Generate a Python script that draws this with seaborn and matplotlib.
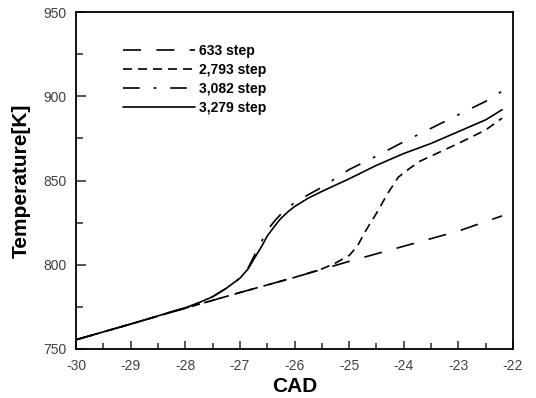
import matplotlib
matplotlib.use("Agg")
import matplotlib.pyplot as plt
import seaborn as sns
import pandas as pd
from matplotlib.ticker import MultipleLocator

# ---- data ----
labels = ["633 step", "2,793 step", "3,082 step", "3,279 step"]

x_633 = [-30, -29, -28, -27, -26, -25, -24, -23, -22.2]
t_633 = [755.5, 764.8, 774.2, 783.5, 792.5, 802, 811, 820, 829]

x_2793 = [-30, -29, -28, -27, -26, -25.5, -25.25, -25.0, -24.85, -24.7, -24.5,
          -24.3, -24.1, -23.9, -23.7, -23.5, -23.0, -22.5, -22.2]
t_2793 = [755.5, 764.8, 774.2, 783.5, 792.5, 797.5, 801, 805.5, 811, 820, 830.5,
          842, 852, 857, 861.5, 864.5, 872, 880, 887]

x_3082 = [-30, -29, -28, -27.75, -27.5, -27.25, -27.0, -26.85, -26.75, -26.6, -26.5,
          -26.35, -26.25, -26.1, -26.0, -25.5, -25.0, -24.5, -24.0, -23.5, -23.0,
          -22.5, -22.2]
t_3082 = [755.5, 764.8, 774.5, 777.5, 781, 786, 792, 798, 804.5, 814, 820.5,
          826.5, 830, 834, 837, 846, 856.5, 864.5, 873, 881, 889, 897, 903]

x_3279 = [-30, -29, -28, -27.75, -27.5, -27.25, -27.0, -26.85, -26.75, -26.6, -26.5,
          -26.35, -26.25, -26.1, -26.0, -25.75, -25.5, -25.0, -24.5, -24.0, -23.5,
          -23.0, -22.5, -22.2]
t_3279 = [755.5, 764.8, 774.5, 777.5, 781, 786, 792, 797.5, 803, 811, 817,
          823.5, 827.5, 832, 834.5, 839.5, 843.5, 851, 859, 866, 872, 879, 886, 892]

xs = [x_633, x_2793, x_3082, x_3279]
ts = [t_633, t_2793, t_3082, t_3279]

x_ticks = [-30, -29, -28, -27, -26, -25, -24, -23, -22]
y_ticks = [750, 800, 850, 900, 950]

# ---- style ----
sns.set_style("white")
plt.rcParams["font.family"] = ["Liberation Sans", "DejaVu Sans"]
plt.rcParams["lines.scale_dashes"] = False
plt.rcParams["text.color"] = "black"
plt.rcParams["axes.labelcolor"] = "black"

styles = [(0, (13, 11)), (0, (6.5, 4.3)), (0, (12, 10, 2, 10)), "-"]

fig = plt.figure(figsize=(5.36, 3.98), dpi=100)
ax = fig.add_axes([76 / 536, 1 - 349 / 398, (513 - 76) / 536, (349 - 12) / 398])

for lab, x, t, ls in zip(labels, xs, ts, styles):
    df = pd.DataFrame({"CAD": x, "T": t})
    sns.lineplot(data=df, x="CAD", y="T", ax=ax, color="black", linewidth=1.2,
                 linestyle=ls, label=lab)

ax.set_xlim(-30, -22)
ax.set_ylim(750, 950)
ax.set_xticks(x_ticks)
ax.set_xticklabels([str(v) for v in x_ticks])
ax.set_yticks(y_ticks)
ax.xaxis.set_minor_locator(MultipleLocator(0.5))
ax.yaxis.set_minor_locator(MultipleLocator(25))

ax.tick_params(axis="x", which="major", direction="in", length=6, width=1.1,
               labelsize=10, labelcolor="#404040", pad=7, top=False, bottom=True)
ax.tick_params(axis="x", which="minor", direction="in", length=4.5, width=1.1,
               top=False, bottom=True)
ax.tick_params(axis="y", which="major", direction="in", length=7.5, width=1.1,
               labelsize=10, labelcolor="#404040", pad=7, left=True, right=False)
ax.tick_params(axis="y", which="minor", direction="in", length=5, width=1.1,
               left=True, right=False)

for sp in ax.spines.values():
    sp.set_visible(True)
    sp.set_color("black")
    sp.set_linewidth(1.3)

ax.set_xlabel("CAD", fontsize=15, fontweight="bold", labelpad=3)
ax.set_ylabel("Temperature[K]", fontsize=15, fontweight="bold", labelpad=9)

leg = ax.legend(loc="upper left", bbox_to_anchor=(0.095, 0.922), frameon=False,
                handlelength=5.2, handletextpad=0.3, labelspacing=0.36,
                prop={"size": 10, "weight": "bold"}, borderaxespad=0)

fig.savefig("out.png", dpi=100)
